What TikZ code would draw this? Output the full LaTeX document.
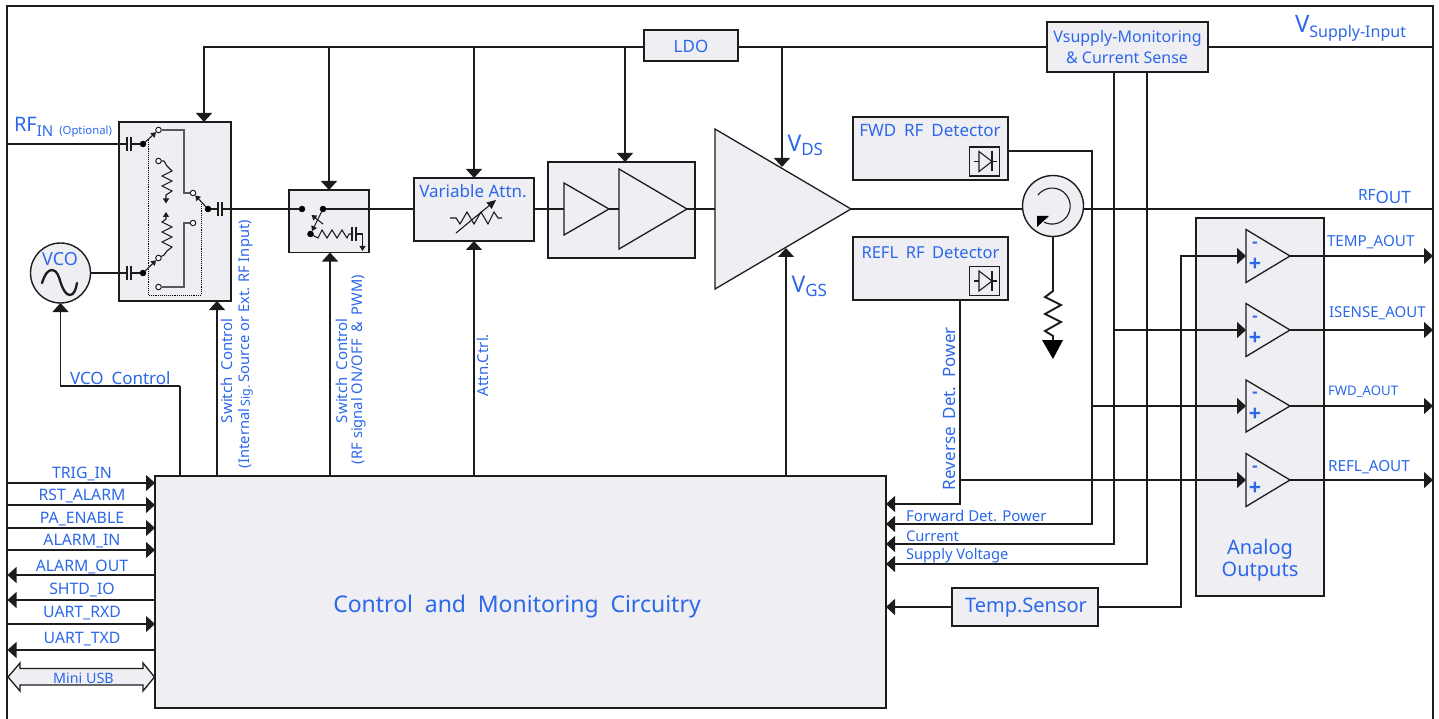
\documentclass[tikz,border=0pt]{standalone}
\usepackage{fontspec}
\setmainfont{Noto Sans}
\newfontfamily\sgnfont{Liberation Sans}
\usetikzlibrary{arrows.meta}
\definecolor{txtblue}{HTML}{2C68EA}
\definecolor{boxfill}{HTML}{EEEEF3}
\definecolor{ink}{HTML}{1C1C1C}
\newcommand{\bx}[6][]{%
  \pgfmathsetmacro{\bxw}{#5-#3}\pgfmathsetmacro{\bxh}{#6-#4}%
  \pgfmathsetmacro{\bxx}{(#5+#3)/2}\pgfmathsetmacro{\bxy}{(#6+#4)/2}%
  \node[boxn,minimum width=\bxw pt,minimum height=\bxh pt,#1] (#2) at (\bxx,\bxy) {};}
% name, x left, y top, x tip, y bottom
\newcommand{\tri}[5]{%
  \pgfmathsetmacro{\try}{(#3+#5)/2}%
  \draw[trishape] (#2,#3) -- (#4,\try) -- (#2,#5) -- cycle;
  \coordinate (#1-w) at (#2,\try);\coordinate (#1-e) at (#4,\try);}
\newcommand{\fsz}[2]{{\fontsize{#1}{#1}\selectfont #2}}
\newcommand{\lowr}[3]{\raisebox{-#1pt}{\fontsize{#2}{#2}\selectfont #3}}
\begin{document}
\begin{tikzpicture}[x=1pt,y=-1pt,
  wire/.style={draw=ink,line width=1.4pt},
  thin wire/.style={draw=ink,line width=1.1pt},
  grey wire/.style={draw=black!65,line width=1.1pt},
  arr/.style={-{Triangle[length=9pt,width=16pt]}},
  smallarr/.style={-{Triangle[length=5pt,width=6pt]}},
  boxn/.style={draw=ink,fill=boxfill,line width=1.5pt,inner sep=0pt,outer sep=0pt},
  trishape/.style={draw=ink,fill=boxfill,line width=1.3pt,line join=miter},
  txt/.style={text=txtblue,inner sep=0pt,outer sep=0pt},
  fs/.style={font=\fontsize{#1}{#1}\selectfont},
  dotb/.style={circle,fill=black,draw=black,inner sep=0pt,minimum size=6pt},
  open/.style={circle,fill=white,draw=ink,line width=1pt,inner sep=0pt,minimum size=5.5pt},
  vert/.style={rotate=90,anchor=west}]
\useasboundingbox (0,0) rectangle (1439,719);
\fill[white] (0,0) rectangle (1439,719);
% outer frame (open at the bottom)
\coordinate (fTL) at (7,6);\coordinate (fTR) at (1433,6);
\coordinate (fBL) at (7,719);\coordinate (fBR) at (1433,719);
\draw[wire] (fBL) -- (fTL) -- (fTR) -- (fBR);
% boxes
\bx{main}{155}{476}{886}{708}
\bx{rfsw}{119}{122}{231}{301}
\bx{sw}{289}{190}{369}{252.5}
\bx{atten}{414}{178}{534}{241}
\bx{ampbox}{548}{162}{695}{258}
\bx{ldo}{644}{30}{738}{61}
\bx{vsup}{1047}{22}{1208}{72}
\bx{fwd}{853}{117}{1008}{180}
\bx{refl}{853}{237}{1008}{300}
\bx{temp}{952}{588}{1098}{626}
\bx{analog}{1196}{218}{1324}{596}
% junction points
\coordinate (bus) at (204,47);
\coordinate (b1) at (329,47);\coordinate (b2) at (474,47);\coordinate (b3) at (625,47);\coordinate (b4) at (782,47);
\coordinate (vdsT) at (782,167);\coordinate (vgsT) at (786,248);
\coordinate (rfL) at (7,144);\coordinate (rfR) at (1433,209);
\coordinate (frR) at (1433,47);
% supply bus
\draw[wire] (frR) -- (vsup.east |- frR);
\draw[wire] (vsup.west |- bus) -- (ldo.east |- bus);
\draw[wire,arr] (ldo.west |- bus) -- (bus) -- (rfsw.north -| bus);
\draw[wire,arr] (b1) -- (sw.north -| b1);
\draw[wire,arr] (b2) -- (atten.north -| b2);
\draw[wire,arr] (b3) -- (ampbox.north -| b3);
\draw[wire,arr] (b4) -- (vdsT);
% control lines up from main
\coordinate (c0) at (180,386);\coordinate (c1) at (217,476);\coordinate (c2) at (330,476);\coordinate (c3) at (474,476);\coordinate (c4) at (786,476);
\draw[wire] (main.north -| c0) -- (c0);
\draw[wire,arr] (c1) -- (rfsw.south -| c1);
\draw[wire,arr] (c2) -- (sw.south -| c2);
\draw[wire,arr] (c3) -- (atten.south -| c3);
\draw[wire,arr] (c4) -- (vgsT);
% VCO
\node[draw=ink,fill=boxfill,line width=1.4pt,circle,minimum size=60pt,inner sep=0pt,outer sep=0pt] (vco) at (60.5,273) {};
\coordinate (vcoC) at (60.5,386);
\draw[wire,arr] (c0) -- (vcoC) -- (vco.south);
\draw[line width=2.3pt,ink,line cap=round] (42,283) .. controls (45,274) and (48,270) .. (52,270) .. controls (57,270) and (59,277) .. (60.5,282) .. controls (63,290) and (66,295) .. (70,295) .. controls (74,295) and (76,289) .. (77,283);
\node[txt,fs=18] (vcot) at (60,259.5) {VCO};
% left signals
\foreach \nm/\yy in {trig/483,rst/505,pa/528,almin/550,rxd/624}{
  \coordinate (L\nm) at (7,\yy);
  \draw[wire,arr] (L\nm) -- (main.west |- L\nm);}
\foreach \nm/\yy in {almout/575,shtd/600,txd/650}{
  \coordinate (L\nm) at (7.5,\yy);
  \draw[wire,arr] (main.west |- L\nm) -- (L\nm);}
\draw[fill=boxfill,draw=ink,line width=1.3pt] (8,677) -- (20,663) -- (20,668.5) -- (143,668.5) -- (143,663) -- (154.5,677) -- (143,691) -- (143,685) -- (20,685) -- (20,691) -- cycle;
% RF switch contents
\node[dotb] (d1) at (143,144) {};
\node[dotb] (d2) at (143,273) {};
\node[dotb] (d3) at (208,209) {};
\node[open] (o1) at (158.5,130) {};
\node[open] (o2) at (158.5,161) {};
\node[open] (o3) at (158.5,258) {};
\node[open] (o4) at (158.5,287) {};
\node[open] (o5) at (193,193) {};
\node[open] (o6) at (193,223) {};
\coordinate (cap1a) at (127,144);\coordinate (cap1b) at (131,144);
\coordinate (cap2a) at (127,273);\coordinate (cap2b) at (131,273);
\coordinate (cap3a) at (218,209);\coordinate (cap3b) at (222,209);
\draw[wire] (rfL) -- (cap1a);\draw[wire] (cap1b) -- (d1);
\draw[wire] (vco.east) -- (cap2a);\draw[wire] (cap2b) -- (d2);
\draw[wire] (d3) -- (cap3a);
\foreach \c in {cap1a,cap1b,cap2a,cap2b,cap3a,cap3b}{
  \draw[thin wire] (\c) ++(0,-7) -- ++(0,14);}
\draw[thin wire,smallarr] (d1) -- (o1);
\draw[thin wire,smallarr] (d2) -- (o3);
\draw[thin wire,smallarr] (d3) -- (o5);
\draw[grey wire] (o1) -- (184,130) -- (184,193) -- (o5);
\draw[grey wire] (o4) -- (184,287) -- (184,223) -- (o6);
\draw[densely dotted,black,line width=.9pt] (148,140) -- (148,295) -- (201,295) -- (201,204);
% upper resistor
\draw[thin wire,smallarr] (o2) -- (164,161) -- (167,166) -- (172,171) -- (162,176) -- (172,181) -- (162,186) -- (172,191) -- (166,195) -- (166,203.5);
% lower resistor
\draw[thin wire,smallarr] (o3) -- (164,255) -- (167,251) -- (172,247) -- (162,242) -- (172,237) -- (162,232) -- (172,227) -- (162,222) -- (166,219) -- (166,212);
% on/off switch
\node[dotb] (s1) at (302,209) {};
\node[dotb] (s2) at (323,209) {};
\node[dotb] (s3) at (310.5,234) {};
\draw[wire] (cap3b) -- (s1);
\draw[thin wire,smallarr] (s2) -- (s3);
\draw[thin wire,smallarr] (323,224) -- (311.5,215);
\coordinate (scap1) at (352,234);\coordinate (scap2) at (356,234);
\draw[thin wire] (s3) -- (318,238) -- (322,230) -- (327,238) -- (332,230) -- (337,238) -- (342,230) -- (347,238) -- (349,234) -- (scap1);
\draw[thin wire] (scap1) ++(0,-7) -- ++(0,14);
\draw[thin wire] (scap2) ++(0,-7) -- ++(0,14);
\draw[thin wire,smallarr] (scap2) -- (362.5,234) -- (362.5,251);
% attenuator
\draw[thin wire] (450,218) -- (456,218) -- (460,224) -- (467,212) -- (474,224) -- (481,212) -- (488,224) -- (494,212) -- (498,218) -- (502,218);
\draw[thin wire,-{Triangle[length=9pt,width=8pt]}] (456,233) -- (496,200);
% RF path
\draw[wire] (s2) -- (atten.west |- s2);
% amps
\draw[wire] (atten.east |- s2) -- (564,209);
\tri{a1}{564}{183}{609}{235}
\tri{a2}{619}{169}{687}{249}
\tri{pa}{715}{129}{851}{289}
\draw[wire] (a1-e) -- (a2-w);
\draw[wire] (a2-e) -- (pa-w);
% circulator
\node[draw=ink,fill=boxfill,line width=1.4pt,circle,minimum size=61pt,inner sep=0pt,outer sep=0pt] (circ) at (1053,206) {};
\coordinate (circL) at (1023,209);\coordinate (circR) at (1083,209);
\draw[wire] (pa-e) -- (circL);
\draw[wire] (circR) -- (rfR);
\draw[thin wire] (1038,195) arc[start angle=142,end angle=-117,radius=18pt];
\fill[black] (1037,216) -- (1049,216) -- (1037,227) -- cycle;
\coordinate (rt) at (1053,287);
\draw[thin wire] (circ.south) -- (rt);
\draw[draw=ink,line width=1.9pt] (rt) -- (1053,291) -- (1045,297) -- (1061,305) -- (1045,314) -- (1061,322) -- (1045,331) -- (1053,336) -- (1053,340);
\fill[black] (1042,340) -- (1063,340) -- (1053,359) -- cycle;
% detectors
\foreach \nm/\yy in {dfwd/161.5,drefl/281}{
  \node[draw=ink,line width=1.4pt,fill=boxfill,minimum size=30pt,minimum height=29pt,inner sep=0pt,outer sep=0pt] (\nm) at (984.5,\yy) {};
  \draw[thin wire] (974,\yy) -- (979,\yy);
  \draw[thin wire] (979,\yy-10) -- (979,\yy+10) -- (992,\yy) -- cycle;
  \draw[thin wire] (992,\yy) -- (997,\yy);
  \draw[thin wire] (992,\yy-10) -- (992,\yy+10);}
% detector and sense lines
\coordinate (f1) at (1092,151);\coordinate (f2) at (1092,524);
\draw[wire,arr] (fwd.east |- f1) -- (f1) -- (f2) -- (main.east |- f2);
\coordinate (r1) at (960,504);\coordinate (r0) at (960,480);
\draw[wire,arr] (refl.south -| r1) -- (r1) -- (main.east |- r1);
\coordinate (i1) at (1114,544);\coordinate (i0) at (1114,72);
\draw[wire,arr] (i0) -- (i1) -- (main.east |- i1);
\coordinate (v1) at (1147,564);\coordinate (v0) at (1147,72);
\draw[wire,arr] (v0) -- (v1) -- (main.east |- v1);
\draw[wire,arr] (temp.west) -- (main.east |- temp.west);
\coordinate (t1) at (1181,607);\coordinate (t2) at (1181,256);
% op-amps
\tri{op1}{1246}{229.5}{1290}{282.5}
\tri{op2}{1246}{303.5}{1290}{356.5}
\tri{op3}{1246}{380}{1290}{432}
\tri{op4}{1246}{453.5}{1290}{506.5}
\draw[wire,arr] (temp.east) -- (t1) -- (t2) -- (op1-w);
\coordinate (i2) at (1114,330);\coordinate (f3) at (1092,406);
\draw[wire,arr] (i2) -- (op2-w);
\draw[wire,arr] (f3) -- (op3-w);
\draw[wire,arr] (r0) -- (op4-w);
\foreach \k in {1,2,3,4}{
  \coordinate (out\k) at (1433,0);
  \draw[wire,arr] (op\k-e) -- (out\k |- op\k-e);}
\foreach \k in {1,2,3,4}{
  \path (op\k-w) ++(9,-11.5) node[txt,font=\sgnfont\bfseries\fontsize{17}{17}\selectfont] (m\k) {-};
  \path (op\k-w) ++(9,8.5) node[txt,font=\sgnfont\bfseries\fontsize{21}{21}\selectfont] (p\k) {+};}
% labels
\node[txt,fs=23] (tmain) at (517,607) {Control\hspace{.25em} and\hspace{.25em} Monitoring\hspace{.25em} Circuitry};
\node[txt,fs=20] (tan1) at (1260,549.5) {Analog};
\node[txt,fs=20] (tan2) at (1260,572) {Outputs};
\node[txt,fs=20] (ttemp) at (1026,607.5) {Temp.Sensor};
\node[txt,fs=16] (tv1) at (1127.5,38) {Vsupply-Monitoring};
\node[txt,fs=16] (tv2) at (1127,57.5) {\&\ Current Sense};
\node[txt,fs=17] (tldo) at (691,46.5) {LDO};
\node[txt,fs=17] (tatt) at (473,191) {Variable Attn.};
\node[txt,fs=17] (tfwd) at (930,130.5) {FWD\hspace{.2em} RF\hspace{.2em} Detector};
\node[txt,fs=16.5] (trefl) at (930.5,252.5) {REFL\hspace{.2em} RF\hspace{.2em} Detector};
\node[txt,anchor=west] (trfin) at (14,127) {\fsz{20}{RF}\lowr{5}{15}{IN}\hspace{6pt}\lowr{3}{11.3}{(Optional)}};
\node[txt,anchor=west] (tvds) at (787.5,145) {\fsz{23}{V}\lowr{4}{17}{DS}};
\node[txt,anchor=west] (tvgs) at (791.5,286) {\fsz{23}{V}\lowr{4}{17}{GS}};
\node[txt,anchor=west] (trfo) at (1358,197) {\fsz{15.5}{RF}\lowr{3}{17}{OUT}};
\node[txt,anchor=west] (tvs) at (1295,28) {\fsz{24}{V}\lowr{5}{16}{Supply-Input}};
\node[txt,fs=17,anchor=west] (tvc) at (70,378) {VCO\hspace{.2em} Control};
\node[txt,fs=15,anchor=west] (tf) at (906,515.5) {Forward Det. Power};
\node[txt,fs=14.7,anchor=west] (tc) at (906,536.5) {Current};
\node[txt,fs=14.7,anchor=west] (ts) at (906,555.5) {Supply Voltage};
\node[txt,fs=15,vert] (tsw1) at (227,423) {Switch\hspace{.2em} Control};
\node[txt,fs=14.7,vert] (tsw1b) at (246,468) {(Internal\,\fsz{12.5}{Sig.}\,Source or Ext. RF Input)};
\node[txt,fs=15,vert] (tsw2) at (342,423) {Switch\hspace{.2em} Control};
\node[txt,fs=14.7,vert] (tsw2b) at (359,464) {(RF signal ON/OFF\hspace{.2em} \&\hspace{.2em} PWM)};
\node[txt,fs=15,vert] (tatc) at (483,396) {Attn.Ctrl.};
\node[txt,fs=17,vert] (trev) at (950,490) {Reverse\hspace{.2em} Det.\hspace{.2em} Power};
\foreach \nm/\yy/\tx in {a/473.5/TRIG\_IN,b/495.5/RST\_ALARM,c/519/PA\_ENABLE,d/541.5/ALARM\_IN,e/566.5/ALARM\_OUT,f/589.5/SHTD\_IO,g/613.5/UART\_RXD,h/639/UART\_TXD}{
  \node[txt,fs=15.8] (l\nm) at (82,\yy) {\tx};}
\node[txt,fs=14.3] (lusb) at (83.5,678) {Mini USB};
\node[txt,fs=15.2,anchor=west] (ta1) at (1327,242) {TEMP\_AOUT};
\node[txt,fs=15,anchor=west] (ta2) at (1329,313) {ISENSE\_AOUT};
\node[txt,fs=13.2,anchor=west] (ta3) at (1328,392) {FWD\_AOUT};
\node[txt,fs=15.3,anchor=west] (ta4) at (1328,467) {REFL\_AOUT};
\end{tikzpicture}
\end{document}
